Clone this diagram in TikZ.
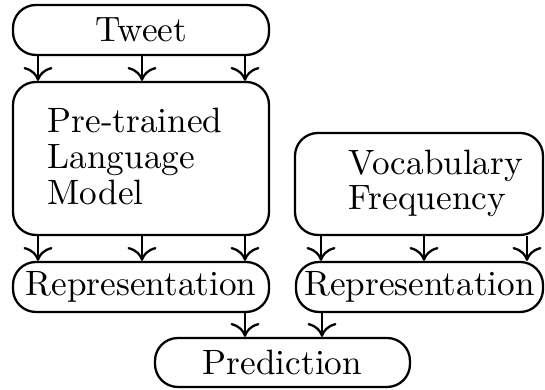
\documentclass[tikz,border=0pt]{standalone}
\usetikzlibrary{calc,arrows.meta}
\begin{document}
\begin{tikzpicture}[x=0.284pt,y=-0.284pt,
  box/.style={draw,line width=0.65pt,rounded corners=6.5pt,inner sep=0pt},
  arr/.style={-{To[scale=1.3]},line width=0.65pt},
  lbl/.style={inner sep=0pt,anchor=base west}]
\useasboundingbox (0,0) rectangle (545,390);
% boxes
\node[box,minimum width=256*0.284pt,minimum height=50*0.284pt] (tweet) at (141,30) {Tweet};
\node[box,minimum width=256*0.284pt,minimum height=153*0.284pt] (plm) at (141,158.5) {};
\node[box,minimum width=248*0.284pt,minimum height=102*0.284pt] (vocab) at (419,184) {};
\node[box,minimum width=256*0.284pt,minimum height=50*0.284pt] (repL) at (141,287) {Representation};
\node[box,minimum width=247*0.284pt,minimum height=50*0.284pt] (repR) at (419.5,287) {Representation};
\node[box,minimum width=255*0.284pt,minimum height=49*0.284pt] (pred) at (282.5,362.5) {Prediction};
% box texts
\node[lbl] (plm1) at (47,133) {Pre-trained};
\node[lbl] (plm2) at (47,169) {Language};
\node[lbl] (plm3) at (47,205) {Model};
\node[lbl] (voc1) at (348,175) {Vocabulary};
\node[lbl] (voc2) at (348,210) {Frequency};
% arrow columns
\coordinate (c1) at (38,0);
\coordinate (c2) at (142,0);
\coordinate (c3) at (245,0);
\coordinate (d1) at (321,0);
\coordinate (d2) at (424,0);
\coordinate (d3) at (527,0);
\coordinate (e1) at (322,0);
\foreach \c in {c1,c2,c3}{
  \draw[arr] (tweet.south -| \c) -- (plm.north -| \c);
  \draw[arr] (plm.south -| \c) -- (repL.north -| \c);
}
\foreach \c in {d1,d2,d3}{
  \draw[arr] (vocab.south -| \c) -- (repR.north -| \c);
}
\draw[arr] (repL.south -| c3) -- (pred.north -| c3);
\draw[arr] (repR.south -| e1) -- (pred.north -| e1);
\end{tikzpicture}
\end{document}
